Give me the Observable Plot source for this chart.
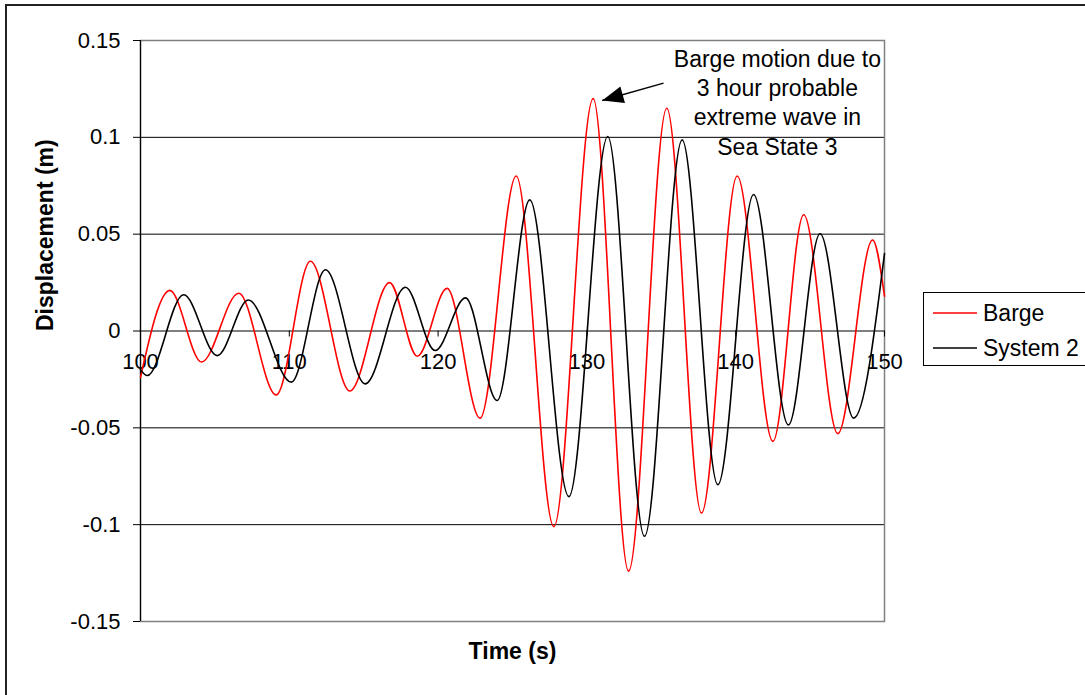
<!DOCTYPE html>
<html><head><meta charset="utf-8">
<script src="https://cdn.jsdelivr.net/npm/d3@7"></script>
<script src="https://cdn.jsdelivr.net/npm/@observablehq/plot@0.6"></script>
<style>
html,body{margin:0;padding:0;background:#fff;overflow:hidden;width:1085px;height:695px;}
#chart{position:absolute;left:0;top:0;}
#border{position:absolute;left:5px;top:4px;width:1100px;height:720px;border:2px solid #222;box-sizing:border-box;pointer-events:none;}
#legend{position:absolute;left:923px;top:292px;}
</style></head><body>
<div id="chart"></div><div id="border"></div><div id="legend"></div>
<script>
// Barge (red) – turning points
const bargeTime = [100.0, 101.97, 104.1, 106.6, 109.12, 111.42, 114.07, 116.74, 118.6, 120.6, 122.82, 125.25, 127.78, 130.42, 132.8, 135.37, 137.7, 140.1, 142.5, 144.57, 146.86, 149.2, 150.0];
const bargeDisp = [-0.024, 0.021, -0.016, 0.0195, -0.033, 0.036, -0.031, 0.025, -0.013, 0.022, -0.045, 0.080, -0.101, 0.120, -0.124, 0.115, -0.094, 0.080, -0.057, 0.060, -0.053, 0.047, 0.018];
// System 2 (black)
const sys2Time = [100.0, 100.45, 102.9, 105.16, 107.25, 110.14, 112.43, 115.1, 117.8, 119.8, 121.84, 123.97, 126.16, 128.79, 131.4, 133.87, 136.4, 138.8, 141.2, 143.54, 145.67, 147.93, 150.0];
const sys2Disp = [-0.020, -0.023, 0.0187, -0.0127, 0.016, -0.0264, 0.0316, -0.0273, 0.0226, -0.0101, 0.0171, -0.0359, 0.0677, -0.0855, 0.1004, -0.106, 0.0987, -0.0794, 0.0705, -0.0485, 0.0502, -0.045, 0.040];

const seriesNames = ["Barge", "System 2"];
const seriesColors = ["#ff0000", "#000000"];

const xTicks = [100, 110, 120, 130, 140, 150];
const xTickLabels = ["100", "110", "120", "130", "140", "150"];
const yTicks = [0.15, 0.1, 0.05, 0, -0.05, -0.1, -0.15];
const yTickLabels = ["0.15", "0.1", "0.05", "0", "-0.05", "-0.1", "-0.15"];
const gridValues = [0.1, 0.05, -0.05, -0.1];

const xTitle = "Time (s)";
const yTitle = "Displacement (m)";
const annotationLines = ["Barge motion due to", "3 hour probable", "extreme wave in", "Sea State 3"];
const annotationPos = [{x: 142.8, y: 0.1185}];
const annotationArrow = [{x1: 135.15, y1: 0.128, x2: 131.03, y2: 0.119}];

const rows = [
  ...bargeTime.map((t, i) => ({series: seriesNames[0], t, v: bargeDisp[i]})),
  ...sys2Time.map((t, i) => ({series: seriesNames[1], t, v: sys2Disp[i]}))
];

const W = 1085, H = 695, mL = 140, mR = 201, mT = 40, mB = 74;
const yPerPx = 0.3 / (H - mT - mB);
const yLabelMap = new Map(yTicks.map((d, i) => [d, yTickLabels[i]]));
const font = "'Liberation Sans', Arial, sans-serif";

const chart = Plot.plot({
  width: W, height: H,
  marginLeft: mL, marginRight: mR, marginTop: mT, marginBottom: mB,
  x: {domain: [100, 150], axis: null},
  y: {domain: [-0.15, 0.15]},
  color: {domain: seriesNames, range: seriesColors},
  style: {fontFamily: font, fontSize: "22px", background: "transparent", color: "#000"},
  marks: [
    Plot.ruleY(gridValues, {stroke: "#000", strokeWidth: 1}),
    Plot.frame({stroke: "#808080", strokeWidth: 1.5}),
    Plot.axisY({ticks: yTicks, tickFormat: d => yLabelMap.get(d), tickSize: 7, tickPadding: 13, fontSize: 22, label: null, stroke: "#000"}),
    Plot.ruleX([100], {stroke: "#000", strokeWidth: 1.2}),
    Plot.ruleY([0], {stroke: "#000", strokeWidth: 1.2}),
    Plot.ruleX(xTicks, {x: d => d, y1: 0, y2: -6 * yPerPx, stroke: "#000"}),
    Plot.text(xTicks, {x: d => d, y: 0, dy: 31, text: (d, i) => xTickLabels[i], fontSize: 22, fill: "#000"}),
    Plot.line(rows, {x: "t", y: "v", z: "series", stroke: "series", strokeWidth: 1.6, curve: "monotone-x"}),
    Plot.text([yTitle], {frameAnchor: "left", dx: -95, rotate: -90, fontWeight: "bold", fontSize: 23, fill: "#000"}),
    Plot.text([xTitle], {frameAnchor: "bottom", dy: 37, fontWeight: "bold", fontSize: 23, fill: "#000"}),
    Plot.text(annotationPos, {x: "x", y: "y", text: () => annotationLines.join("\n"), lineHeight: 1.27, fontSize: 23, fill: "#000"}),
    Plot.link(annotationArrow, {x1: "x1", y1: "y1", x2: "x2", y2: "y2", stroke: "#000", strokeWidth: 1.5})
  ]
});
document.getElementById("chart").appendChild(chart);

// filled arrowhead for the annotation
const svgSel = d3.select(chart);
const defs = svgSel.append("defs");
defs.append("marker").attr("id", "ahead").attr("viewBox", "0 0 20 16")
  .attr("refX", 20).attr("refY", 8).attr("markerWidth", 22).attr("markerHeight", 17)
  .attr("markerUnits", "userSpaceOnUse").attr("orient", "auto")
  .append("path").attr("d", "M0,0L20,8L0,16Z").attr("fill", "#000");
svgSel.selectAll("g[aria-label='link'] path").attr("marker-end", "url(#ahead)");

// legend
const lg = d3.select("#legend").append("svg").attr("width", 170).attr("height", 76);
lg.append("rect").attr("x", 0.5).attr("y", 0.5).attr("width", 200).attr("height", 73)
  .attr("fill", "#fff").attr("stroke", "#000").attr("stroke-width", 1);
seriesNames.forEach((name, i) => {
  const cy = 21 + i * 35;
  lg.append("line").attr("x1", 10).attr("x2", 54).attr("y1", cy).attr("y2", cy)
    .attr("stroke", seriesColors[i]).attr("stroke-width", 1.6);
  lg.append("text").attr("x", 60).attr("y", cy).attr("dy", "0.35em")
    .attr("font-family", font).attr("font-size", 23).attr("fill", "#000").text(name);
});
</script>
</body></html>
